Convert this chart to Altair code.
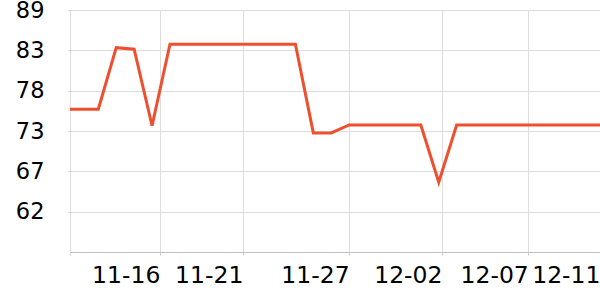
import altair as alt
import pandas as pd

dates = [
    "2023-11-11", "2023-11-12", "2023-11-13", "2023-11-14", "2023-11-15",
    "2023-11-16", "2023-11-17", "2023-11-18", "2023-11-19", "2023-11-20",
    "2023-11-21", "2023-11-22", "2023-11-23", "2023-11-24", "2023-11-25",
    "2023-11-26", "2023-11-27", "2023-11-28", "2023-11-29", "2023-11-30",
    "2023-12-01", "2023-12-02", "2023-12-03", "2023-12-04", "2023-12-05",
    "2023-12-06", "2023-12-07", "2023-12-08", "2023-12-09", "2023-12-10",
    "2023-12-11",
]
values = [
    75.6, 75.6, 75.6, 83.75, 83.55,
    73.4, 84.2, 84.2, 84.2, 84.2,
    84.2, 84.2, 84.2, 84.2, 72.45,
    72.45, 73.5, 73.5, 73.5, 73.5,
    73.5, 65.9, 73.5, 73.5, 73.5,
    73.5, 73.5, 73.5, 73.5, 73.5,
    73.5,
]
y_ticks = [62.0, 67.35, 72.7, 78.05, 83.4, 88.75]
y_domain = [56.65, 88.75]

df = pd.DataFrame({"date": [d + "T00:00:00" for d in dates], "value": values})

x_start = alt.DateTime(year=2023, month=11, date=11, hours=10, minutes=5)
x_end = alt.DateTime(year=2023, month=12, date=11)
x_ticks = [
    x_start,
    alt.DateTime(year=2023, month=11, date=16, hours=10, minutes=30),
    alt.DateTime(year=2023, month=11, date=21, hours=1, minutes=40),
    alt.DateTime(year=2023, month=11, date=27),
    alt.DateTime(year=2023, month=12, date=2, hours=4, minutes=20),
    alt.DateTime(year=2023, month=12, date=7),
    x_end,
]

chart = (
    alt.Chart(df)
    .mark_line(color="#ef4f2f", strokeWidth=3, clip=True)
    .encode(
        x=alt.X(
            "date:T",
            scale=alt.Scale(domain=[x_start, x_end], nice=False),
            axis=alt.Axis(
                title=None,
                values=x_ticks,
                format="%m-%d",
                labelExpr="datum.index == 0 ? '' : datum.label",
                labelAlign="right",
                labelBaseline="top",
                labelFont="DejaVu Sans",
                labelFontSize=23.5,
                labelColor="#000000",
                labelPadding=8,
                labelFlush=False,
                labelOverlap=False,
                tickSize=3,
                tickColor="#cccccc",
                domainColor="#c0c0c0",
                gridColor="#dddddd",
                grid=True,
            ),
        ),
        y=alt.Y(
            "value:Q",
            scale=alt.Scale(domain=y_domain, nice=False, zero=False),
            axis=alt.Axis(
                title=None,
                values=y_ticks,
                format=".0f",
                labelFont="DejaVu Sans",
                labelFontSize=22.5,
                labelColor="#000000",
                labelPadding=24,
                tickSize=2,
                tickColor="#cccccc",
                domain=False,
                gridColor="#dddddd",
                labelOverlap=False,
                labelFlush=False,
            ),
        ),
    )
    .properties(
        width=530,
        height=242,
        autosize="none",
        padding={"left": 70, "top": 10, "right": 0, "bottom": 48},
    )
    .configure_view(stroke=None)
)

chart.save("out.html", embed_options={"renderer": "svg", "actions": False})
